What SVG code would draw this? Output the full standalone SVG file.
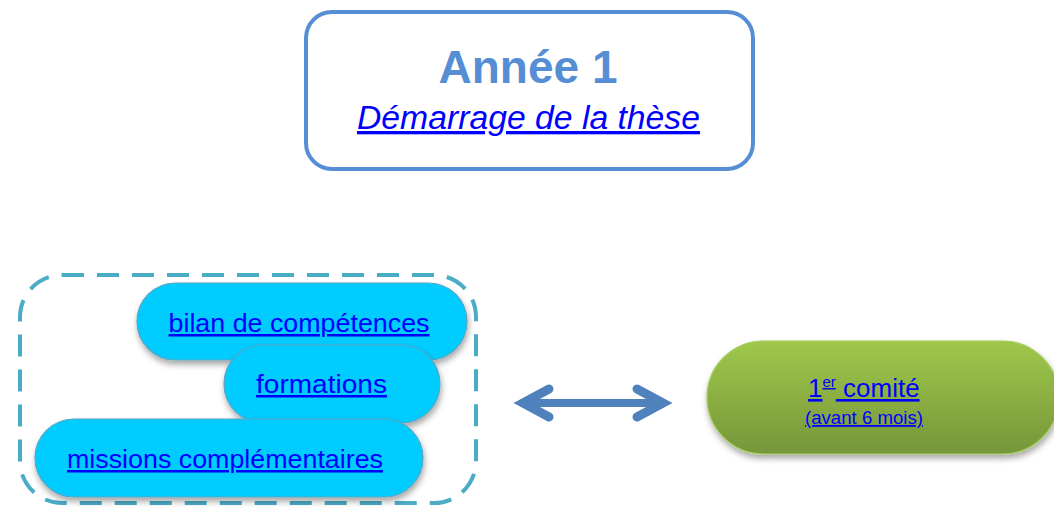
<svg xmlns="http://www.w3.org/2000/svg" width="1054" height="507" viewBox="0 0 1054 507">
  <style>
    .link { fill: #0000FF; text-decoration: underline; font-family: "Liberation Sans", Arial, sans-serif; }
    .pill { fill: #00CCFF; stroke: #5AA6C2; stroke-width: 1.2; filter: url(#sh); }
  </style>
  <defs>
    <filter id="sh" x="-20%" y="-30%" width="140%" height="170%">
      <feDropShadow dx="1" dy="4" stdDeviation="3" flood-color="#000" flood-opacity="0.35"/>
    </filter>
    <linearGradient id="green" x1="0" y1="0" x2="0" y2="1">
      <stop offset="0" stop-color="#9FC84B"/>
      <stop offset="1" stop-color="#76963A"/>
    </linearGradient>
  </defs>
  <rect width="1054" height="507" fill="#FFFFFF"/>

  <g id="annee1">
    <rect x="306" y="12" width="447" height="157" rx="26" fill="#FFFFFF" stroke="#558ED5" stroke-width="4"/>
    <text x="528" y="83" text-anchor="middle" font-family="Liberation Sans, Arial, sans-serif" font-weight="bold" font-size="46" fill="#558ED5">Année 1</text>
    <text class="link" x="528.5" y="129" text-anchor="middle" font-style="italic" font-size="33" textLength="343" lengthAdjust="spacingAndGlyphs">Démarrage de la thèse</text>
  </g>

  <g id="groupe">
    <rect x="20" y="275" width="456" height="228" rx="42" fill="none" stroke="#4BACC6" stroke-width="4" stroke-dasharray="22 13"/>
  </g>

  <g id="bilan">
    <rect class="pill" x="137" y="283" width="330" height="77" rx="38.5"/>
    <text class="link" x="299" y="332" text-anchor="middle" font-size="25" textLength="261" lengthAdjust="spacingAndGlyphs">bilan de compétences</text>
  </g>
  <g id="formations">
    <rect class="pill" x="224" y="345" width="216" height="78" rx="39"/>
    <text class="link" x="321.5" y="393" text-anchor="middle" font-size="25" textLength="131" lengthAdjust="spacingAndGlyphs">formations</text>
  </g>
  <g id="missions">
    <rect class="pill" x="35" y="419" width="388" height="78" rx="39"/>
    <text class="link" x="225" y="468" text-anchor="middle" font-size="25" textLength="316" lengthAdjust="spacingAndGlyphs">missions complémentaires</text>
  </g>

  <g id="comite">
    <rect x="707" y="341" width="352" height="113" rx="56.5" fill="url(#green)" stroke="#A6CC5E" stroke-width="1.2" filter="url(#sh)"/>
    <text class="link" x="808" y="397" font-size="26">1<tspan font-size="15" dy="-10">er</tspan><tspan dy="10"> comité</tspan></text>
    <text class="link" x="864" y="424" text-anchor="middle" font-size="18" textLength="118" lengthAdjust="spacingAndGlyphs">(avant 6 mois)</text>
  </g>

  <g id="connectors">
    <line x1="525" y1="403" x2="660" y2="403" stroke="#4F81BD" stroke-width="8"/>
    <polyline points="549,389 523,403 549,417" fill="none" stroke="#4F81BD" stroke-width="9" stroke-linecap="round" stroke-linejoin="miter"/>
    <polyline points="637,389 663,403 637,417" fill="none" stroke="#4F81BD" stroke-width="9" stroke-linecap="round" stroke-linejoin="miter"/>
  </g>
</svg>
